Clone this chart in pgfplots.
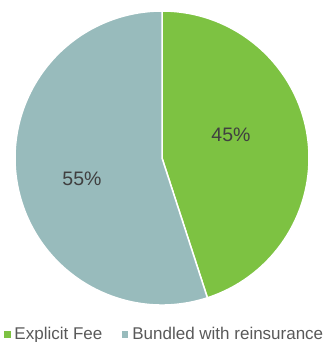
\documentclass[border=0pt]{standalone}
\usepackage{pgfplots}
\pgfplotsset{compat=1.18}
\usepackage{fontspec}
\setmainfont{Liberation Sans}
\definecolor{feegreen}{HTML}{7DC242}
\definecolor{bundgrey}{HTML}{98BBBC}
\definecolor{txt}{HTML}{404040}
\definecolor{legtxt}{HTML}{595959}
% data: shares in percent
\def\valA{45}
\def\valB{55}
\begin{document}
\begin{tikzpicture}
\useasboundingbox (0,0) rectangle (324bp,342bp);
\begin{axis}[
  anchor=origin, at={(0,0)},
  x=1bp, y=1bp,
  xmin=0, xmax=324, ymin=0, ymax=342,
  hide axis, clip=false,
  legend style={at={(axis cs:4,1)}, anchor=south west, draw=none, fill=none,
    inner sep=0pt, outer sep=0pt,
    font=\fontsize{17bp}{19bp}\selectfont\color{legtxt},
    legend columns=-1,
    /tikz/every even column/.append style={column sep=15bp},
    nodes={inner xsep=4.5bp, inner ysep=0pt}},
]
\addplot[draw=none, forget plot] coordinates {(162,184)};
\pgfmathsetmacro{\endA}{90-3.6*\valA}
\pgfmathsetmacro{\endB}{\endA-3.6*\valB}
\fill[feegreen, draw=white, line width=1.5bp] (axis cs:162,184) -- ++(90:147bp) arc[start angle=90, end angle=\endA, radius=147bp] -- cycle;
\fill[bundgrey, draw=white, line width=1.5bp] (axis cs:162,184) -- ++(\endA:147bp) arc[start angle=\endA, end angle=\endB, radius=147bp] -- cycle;
\node[font=\fontsize{19.5bp}{22bp}\selectfont, text=txt] at (axis cs:231,206.7) {45\%};
\node[font=\fontsize{19.5bp}{22bp}\selectfont, text=txt] at (axis cs:82,162.8) {55\%};
\addlegendimage{legend image code/.code={\fill[feegreen] (0bp,-2.8bp) rectangle (5.6bp,2.8bp);}}
\addlegendentry{Explicit Fee}
\addlegendimage{legend image code/.code={\fill[bundgrey] (0bp,-2.8bp) rectangle (5.6bp,2.8bp);}}
\addlegendentry{Bundled with reinsurance}
\end{axis}
\end{tikzpicture}
\end{document}
